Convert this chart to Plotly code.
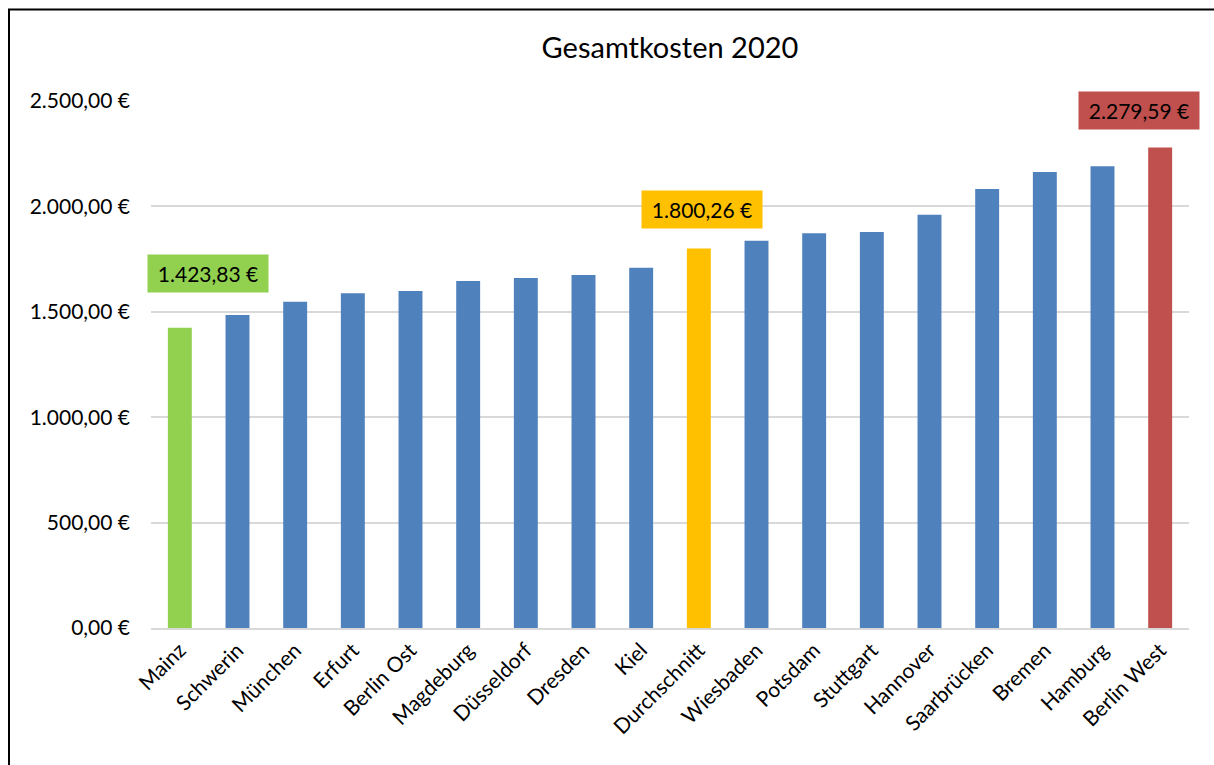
import plotly.graph_objects as go

categories = ["Mainz", "Schwerin", "München", "Erfurt", "Berlin Ost", "Magdeburg",
              "Düsseldorf", "Dresden", "Kiel", "Durchschnitt", "Wiesbaden", "Potsdam",
              "Stuttgart", "Hannover", "Saarbrücken", "Bremen", "Hamburg", "Berlin West"]
values = [1423.83, 1485, 1548, 1588, 1599, 1646, 1660, 1675, 1709, 1800.26,
          1837, 1873, 1879, 1960, 2082, 2163, 2191, 2279.59]

tick_vals = [0, 500, 1000, 1500, 2000, 2500]
tick_text = ["0,00 €", "500,00 €", "1.000,00 €", "1.500,00 €", "2.000,00 €", "2.500,00 €"]

highlight = {"Mainz": "#92D050", "Durchschnitt": "#FFC000", "Berlin West": "#C0504D"}
label_shift = {"Mainz": (28, 35), "Durchschnitt": (3, 20), "Berlin West": (-21, 17)}

def fmt_de(v):
    s = f"{v:,.2f}"
    return s.replace(",", "X").replace(".", ",").replace("X", ".") + " €"

colors = [highlight.get(c, "#4F81BD") for c in categories]

FONT = "Lato"

fig = go.Figure(go.Bar(
    x=categories, y=values, marker_color=colors, marker_line_width=0,
    hoverinfo="x+y",
))

annotations = []
for c, v in zip(categories, values):
    if c in highlight:
        xs, ys = label_shift[c]
        annotations.append(dict(
            x=c, y=v, xref="x", yref="y", text=fmt_de(v), showarrow=False,
            yanchor="bottom", xshift=xs, yshift=ys,
            bgcolor=highlight[c], font=dict(family=FONT, size=21, color="#000000"),
            width=114, height=31, borderpad=3,
        ))

fig.update_layout(
    width=1214, height=765,
    margin=dict(l=151, r=25, t=101, b=137),
    paper_bgcolor="white", plot_bgcolor="white",
    title=dict(text="Gesamtkosten 2020", x=0.5, xanchor="center", y=1 - 48 / 765, yanchor="middle",
               xref="paper", font=dict(family=FONT, size=29, color="#000000")),
    font=dict(family=FONT, size=21, color="#000000"),
    bargap=0.585,
    showlegend=False,
    annotations=annotations,
    xaxis=dict(range=[-0.5, len(categories) - 0.5], autorange=False,
               tickangle=-45, showgrid=False, showline=True, linecolor="#D9D9D9", linewidth=1.5,
               ticks="", tickfont=dict(family=FONT, size=21)),
    yaxis=dict(range=[0, 2500], autorange=False, tickvals=tick_vals, ticktext=tick_text, showgrid=True,
               gridcolor="#D9D9D9", gridwidth=1.5, zeroline=False, showline=False, ticks="",
               ticklabelstandoff=20, tickfont=dict(family=FONT, size=21)),
    shapes=[dict(type="rect", xref="paper", yref="paper",
                 x0=(9 - 151) / 1038, x1=(1300 - 151) / 1038, y0=(628 - 900) / 527, y1=(628 - 9.5) / 527,
                 line=dict(color="#000000", width=2), fillcolor="rgba(0,0,0,0)", layer="above")],
)

fig.write_html("out.html", config={"displayModeBar": False},
               post_script="document.body.style.margin='0';document.body.style.overflow='hidden';")
